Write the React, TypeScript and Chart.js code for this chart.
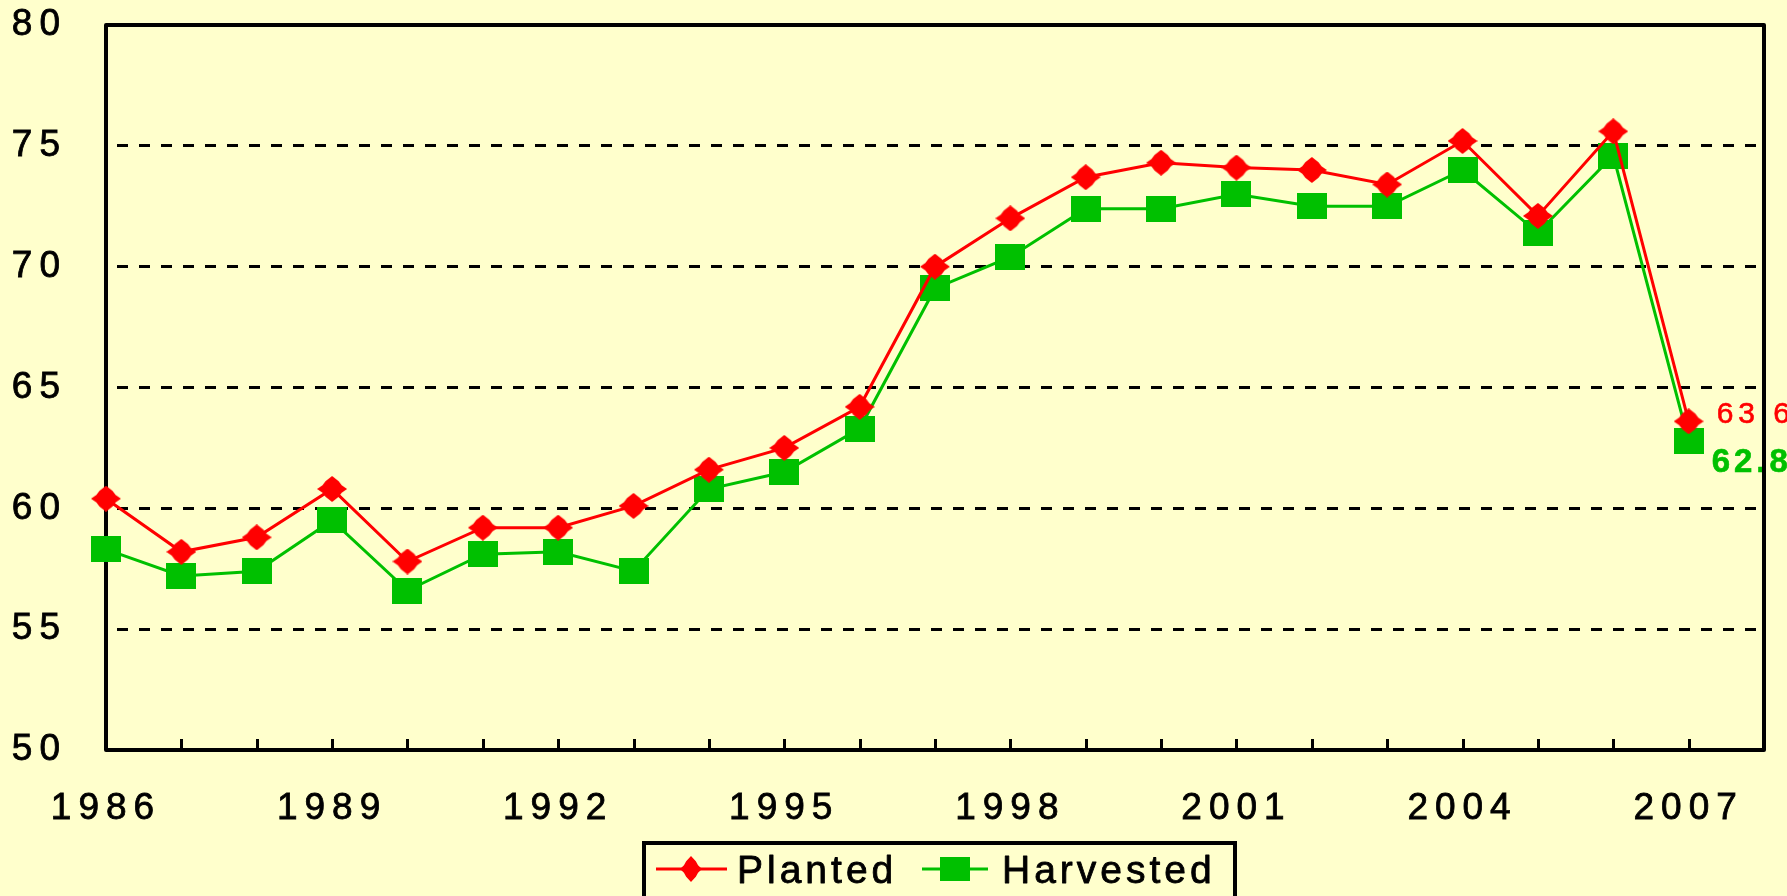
import React, { useEffect, useRef } from 'react';
import { Chart, registerables } from 'chart.js';

Chart.register(...registerables);

const years = ['1986', '1987', '1988', '1989', '1990', '1991', '1992', '1993', '1994', '1995', '1996', '1997', '1998', '1999', '2000', '2001', '2002', '2003', '2004', '2005', '2006', '2007'];
const xLabels = [...years, ''];
const planted = [60.4, 58.2, 58.8, 60.8, 57.8, 59.2, 59.2, 60.1, 61.6, 62.5, 64.2, 70.0, 72.0, 73.7, 74.3, 74.1, 74.0, 73.4, 75.2, 72.1, 75.6, 63.6];
const harvested = [58.3, 57.2, 57.4, 59.5, 56.6, 58.1, 58.2, 57.4, 60.8, 61.5, 63.3, 69.1, 70.4, 72.4, 72.4, 73.0, 72.5, 72.5, 74.0, 71.4, 74.6, 62.8];
const yMin = 50;
const yMax = 80;
const yStep = 5;
const seriesNames = ['Planted', 'Harvested'];

const BG = '#FFFFCC';
const RED = '#FF0000';
const GREEN = '#00C000';
const FONT = '"Liberation Sans", Arial, sans-serif';

function makeDiamond(w: number, h: number) {
  const c = document.createElement('canvas');
  c.width = w;
  c.height = h;
  const ctx = c.getContext('2d')!;
  ctx.fillStyle = RED;
  const cx = w / 2;
  const cy = h / 2;
  ctx.beginPath();
  ctx.moveTo(cx, 0);
  ctx.lineTo(cx + w * 0.22, h * 0.2);
  ctx.lineTo(cx + w * 0.32, h * 0.36);
  ctx.lineTo(w, cy);
  ctx.lineTo(cx + w * 0.32, h * 0.64);
  ctx.lineTo(cx + w * 0.22, h * 0.8);
  ctx.lineTo(cx, h);
  ctx.lineTo(cx - w * 0.22, h * 0.8);
  ctx.lineTo(cx - w * 0.32, h * 0.64);
  ctx.lineTo(0, cy);
  ctx.lineTo(cx - w * 0.32, h * 0.36);
  ctx.lineTo(cx - w * 0.22, h * 0.2);
  ctx.closePath();
  ctx.fill();
  return c;
}

function makeRect(w: number, h: number) {
  const c = document.createElement('canvas');
  c.width = w;
  c.height = h;
  const ctx = c.getContext('2d')!;
  ctx.fillStyle = GREEN;
  ctx.fillRect(0, 0, w, h);
  return c;
}

function boldText(ctx: CanvasRenderingContext2D, text: string, x: number, y: number, color: string, stroke: number) {
  ctx.fillStyle = color;
  ctx.strokeStyle = color;
  ctx.lineWidth = stroke;
  ctx.lineJoin = 'round';
  ctx.strokeText(text, x, y);
  ctx.fillText(text, x, y);
}

export default function App() {
  const ref = useRef<HTMLCanvasElement>(null);

  useEffect(() => {
    document.body.style.margin = '0';
    document.body.style.background = BG;
    const canvas = ref.current!;
    const LS = '7px';
    const diamond = makeDiamond(30, 26);
    const square = makeRect(30, 26);
    const legDiamond = makeDiamond(22, 26);
    const legSquare = makeRect(30, 24);

    const custom = {
      id: 'custom',
      beforeUpdate(chart: any) {
        chart.ctx.letterSpacing = LS;
      },
      beforeDraw(chart: any) {
        const ctx = chart.ctx;
        ctx.save();
        ctx.fillStyle = BG;
        ctx.fillRect(0, 0, chart.width, chart.height);
        ctx.restore();
        ctx.letterSpacing = LS;
      },
      beforeDatasetsDraw(chart: any) {
        const ctx = chart.ctx;
        const a = chart.chartArea;
        const xs = chart.scales.x;
        ctx.save();
        // end value labels
        const last = years.length - 1;
        const pR = chart.getDatasetMeta(0).data[last];
        const pG = chart.getDatasetMeta(1).data[last];
        ctx.textBaseline = 'alphabetic';
        ctx.textAlign = 'left';
        ctx.letterSpacing = '5px';
        ctx.font = `30px ${FONT}`;
        boldText(ctx, planted[last].toFixed(1), pR.x + 28, pR.y + 2, RED, 0.6);
        ctx.font = `bold 33px ${FONT}`;
        ctx.letterSpacing = '4px';
        boldText(ctx, harvested[last].toFixed(1), pG.x + 23, pG.y + 31, GREEN, 0.6);

        // inside tick marks
        ctx.strokeStyle = '#000';
        ctx.lineWidth = 3;
        for (let i = 1; i < years.length; i++) {
          const px = Math.round(xs.getPixelForValue(i)) + 0.5;
          ctx.beginPath();
          ctx.moveTo(px, a.bottom);
          ctx.lineTo(px, a.bottom - 11);
          ctx.stroke();
        }
        // plot frame
        ctx.lineWidth = 4;
        ctx.strokeRect(a.left, a.top, a.right - a.left, a.bottom - a.top);
        ctx.restore();
      },
      afterDraw(chart: any) {
        const ctx = chart.ctx;
        ctx.save();
        ctx.textBaseline = 'alphabetic';
        ctx.textAlign = 'left';
        // legend
        ctx.strokeStyle = '#000';
        ctx.lineWidth = 4;
        ctx.strokeRect(644, 843, 591, 80);
        const ly = 869;
        ctx.lineWidth = 3;
        ctx.strokeStyle = RED;
        ctx.beginPath();
        ctx.moveTo(656, ly);
        ctx.lineTo(727, ly);
        ctx.stroke();
        ctx.drawImage(legDiamond, 691 - 11, ly - 13);
        ctx.strokeStyle = GREEN;
        ctx.beginPath();
        ctx.moveTo(922, ly);
        ctx.lineTo(988, ly);
        ctx.stroke();
        ctx.drawImage(legSquare, 955 - 15, ly - 12);
        ctx.font = `39px ${FONT}`;
        ctx.letterSpacing = '4px';
        boldText(ctx, seriesNames[0], 737, 883, '#000', 0.8);
        boldText(ctx, seriesNames[1], 1002, 883, '#000', 0.8);
        ctx.restore();
      },
    };

    const chart = new Chart(canvas, {
      type: 'line',
      data: {
        labels: xLabels,
        datasets: [
          {
            label: seriesNames[0],
            data: planted,
            borderColor: RED,
            backgroundColor: RED,
            borderWidth: 3,
            pointStyle: diamond,
            pointRadius: 15,
            tension: 0,
            clip: false,
          } as any,
          {
            label: seriesNames[1],
            data: harvested,
            borderColor: GREEN,
            backgroundColor: GREEN,
            borderWidth: 3,
            pointStyle: square,
            pointRadius: 15,
            tension: 0,
            clip: false,
          } as any,
        ],
      },
      options: {
        responsive: false,
        animation: false,
        events: [],
        layout: { padding: { left: 0, top: 25, right: 23, bottom: 0 } },
        plugins: {
          legend: { display: false },
          tooltip: { enabled: false },
        },
        scales: {
          x: {
            type: 'category',
            offset: false,
            grid: { display: false, drawTicks: false },
            border: { display: false },
            ticks: {
              autoSkip: false,
              maxRotation: 0,
              minRotation: 0,
              padding: 37,
              color: '#000',
              textStrokeColor: '#000',
              textStrokeWidth: 0.8,
              font: { family: FONT, size: 37 },
              callback: (v: any, i: number) => (i % 3 === 0 ? xLabels[i] : ''),
            },
            afterFit: (s: any) => {
              s.height = 146;
              s.paddingLeft = 0;
              s.paddingRight = 0;
            },
          },
          y: {
            min: yMin,
            max: yMax,
            grid: {
              drawTicks: false,
              lineWidth: 3,
              color: (c: any) => (c.tick && (c.tick.value === yMin || c.tick.value === yMax) ? 'rgba(0,0,0,0)' : '#000'),
            },
            border: { display: false, dash: [11, 11], dashOffset: 11 },
            ticks: {
              stepSize: yStep,
              padding: 39,
              color: '#000',
              textStrokeColor: '#000',
              textStrokeWidth: 0.8,
              font: { family: FONT, size: 37 },
            },
            afterFit: (s: any) => {
              s.width = 106;
              s.paddingTop = 0;
              s.paddingBottom = 0;
            },
          },
        },
      },
      plugins: [custom],
    });

    return () => chart.destroy();
  }, []);

  return <canvas ref={ref} width={1787} height={896} style={{ display: 'block' }} />;
}
